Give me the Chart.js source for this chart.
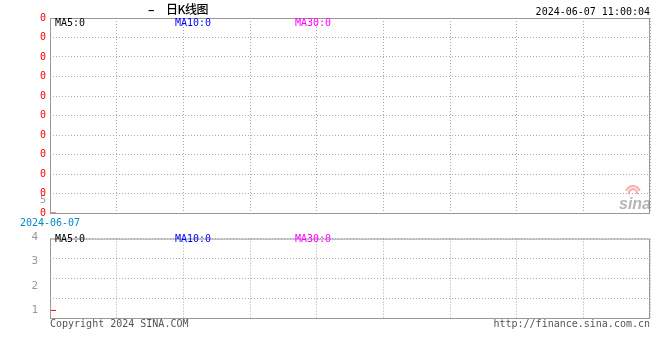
<!DOCTYPE html>
<html>
<head>
<meta charset="utf-8">
<script src="https://cdn.jsdelivr.net/npm/chart.js@4/dist/chart.umd.min.js"></script>
<style>
  body { margin: 0; background: #fff; }
  #wrap { position: relative; width: 660px; height: 360px; }
  canvas { position: absolute; left: 0; }
  #kline { top: 0; }
  #vol { top: 228px; }
</style>
</head>
<body>
<div id="wrap">
  <canvas id="kline" width="660" height="228"></canvas>
  <canvas id="vol" width="660" height="132"></canvas>
</div>
<script>
let dates = ['2024-06-07'];
let closes = [0];
let volumes = [1];

let priceTicks = [0, 0.65, 1, 2, 3, 4, 5, 6, 7, 8, 9, 10];
let priceLabels = ['0', '5', '0', '0', '0', '0', '0', '0', '0', '0', '0', '0'];
let volTicks = [1, 2, 3, 4];
let volLabels = ['1', '2', '3', '4'];

let maNames = ['MA5:0', 'MA10:0', 'MA30:0'];
let maColors = ['#000000', '#0000ff', '#ff00ff'];

let titleDash = '–';
let title = '日K线图';
let stamp = '2024-06-07 11:00:04';
let copyright = 'Copyright 2024 SINA.COM';
let site = 'http://finance.sina.com.cn';

const mono = 'DejaVu Sans Mono';
Chart.defaults.font.family = mono;
Chart.defaults.font.size = 10;

const dotted = { display: false, dash: [1, 2] };
const gridCol = '#aaaaaa';

function frame(chart) {
  let a = chart.chartArea;
  let c = chart.ctx;
  c.save();
  c.strokeStyle = '#999999';
  c.lineWidth = 1;
  c.strokeRect(a.left + 0.5, a.top + 0.5, a.right - a.left - 1, a.bottom - a.top);
  c.restore();
}

function maText(chart, y) {
  let c = chart.ctx;
  c.save();
  c.font = '10px ' + mono;
  c.textBaseline = 'middle';
  maNames.forEach((t, i) => {
    c.fillStyle = maColors[i];
    c.fillText(t, 55 + i * 120, y);
  });
  c.restore();
}

let klinePlugin = {
  id: 'klineText',
  afterDraw(chart) {
    frame(chart);
    maText(chart, 23);
    let c = chart.ctx;
    c.save();
    c.fillStyle = '#000';
    c.textBaseline = 'middle';
    c.font = 'bold 12px "Noto Sans CJK SC"';
    c.fillText(titleDash, 148, 9);
    c.font = '500 12px "Noto Sans CJK SC"';
    c.letterSpacing = '-0.5px';
    c.fillText(title, 166, 9);
    c.letterSpacing = '0px';
    c.font = '10px ' + mono;
    c.textAlign = 'right';
    c.fillText(stamp, 650, 12);
    // sina watermark
    c.font = 'italic bold 16px "Liberation Sans"';
    c.fillStyle = 'rgba(120,120,120,0.55)';
    c.fillText('sina', 651, 205);
    c.strokeStyle = 'rgba(240,120,120,0.6)';
    c.lineWidth = 2;
    c.beginPath();
    c.arc(633, 193, 4, Math.PI * 0.9, Math.PI * 2.1);
    c.stroke();
    c.beginPath();
    c.arc(633, 193, 7, Math.PI * 1.1, Math.PI * 1.9);
    c.stroke();
    c.restore();
  }
};

let volPlugin = {
  id: 'volText',
  afterDraw(chart) {
    frame(chart);
    maText(chart, 11);
    let c = chart.ctx;
    c.save();
    c.font = '10px ' + mono;
    c.fillStyle = '#555555';
    c.textBaseline = 'middle';
    c.fillText(copyright, 50, 96);
    c.textAlign = 'right';
    c.fillText(site, 650, 96);
    c.restore();
  }
};

let xScale = (showDate) => ({
  type: 'linear',
  min: 0,
  max: 9,
  afterBuildTicks: (s) => { s.ticks = [0, 1, 2, 3, 4, 5, 6, 7, 8, 9].map(v => ({ value: v })); },
  afterFit: (s) => { s.height = showDate ? 15 : 0; },
  grid: { color: gridCol, drawTicks: false },
  border: dotted,
  ticks: {
    display: showDate,
    autoSkip: false,
    maxRotation: 0,
    padding: 4,
    color: '#0088cc',
    callback: (v) => v === 0 ? dates[0] : ''
  }
});

new Chart(document.getElementById('kline'), {
  type: 'line',
  data: {
    datasets: [{
      data: closes.map((v, i) => ({ x: i, y: v })),
      borderColor: '#ff0000',
      pointStyle: 'line',
      pointRadius: 6,
      pointBorderWidth: 1,
      showLine: false,
      clip: { left: 0, top: 0, right: 0, bottom: 1 }
    }]
  },
  options: {
    responsive: false,
    devicePixelRatio: 1,
    animation: false,
    events: [],
    layout: { padding: { top: 18, right: 10, left: 0, bottom: 0 } },
    plugins: { legend: { display: false }, tooltip: { enabled: false } },
    scales: {
      x: xScale(true),
      y: {
        min: 0,
        max: 10,
        afterBuildTicks: (s) => { s.ticks = priceTicks.map(v => ({ value: v })); },
        afterFit: (s) => { s.width = 50; },
        grid: {
          drawTicks: false,
          color: (c) => Number.isInteger(c.tick.value) ? gridCol : 'rgba(0,0,0,0)'
        },
        border: dotted,
        ticks: {
          autoSkip: false,
          padding: 4,
          color: (c) => priceLabels[c.index] === '5' ? '#999999' : '#ff0000',
          callback: (v, i) => priceLabels[i]
        }
      }
    }
  },
  plugins: [klinePlugin]
});

new Chart(document.getElementById('vol'), {
  type: 'line',
  data: {
    datasets: [{
      data: volumes.map((v, i) => ({ x: i, y: v })),
      borderColor: '#ff0000',
      pointStyle: 'line',
      pointRadius: 6,
      pointBorderWidth: 1,
      showLine: false,
      clip: 0
    }]
  },
  options: {
    responsive: false,
    devicePixelRatio: 1,
    animation: false,
    events: [],
    layout: { padding: { top: 6, right: 10, left: 0, bottom: 42 } },
    plugins: { legend: { display: false }, tooltip: { enabled: false } },
    scales: {
      x: xScale(false),
      y: {
        min: 0.69,
        max: 3.93,
        afterBuildTicks: (s) => { s.ticks = volTicks.map(v => ({ value: v })); },
        afterFit: (s) => { s.width = 50; },
        grid: { display: false },
        border: { display: false },
        ticks: {
          autoSkip: false,
          padding: 4,
          color: '#999999',
          font: { size: 11 },
          callback: (v, i) => volLabels[i]
        }
      },
      yg: {
        position: 'right',
        min: 0,
        max: 4,
        afterFit: (s) => { s.width = 0; },
        grid: { color: gridCol, drawTicks: false },
        border: dotted,
        ticks: { display: false, stepSize: 1 }
      }
    }
  },
  plugins: [volPlugin]
});
</script>
</body>
</html>
